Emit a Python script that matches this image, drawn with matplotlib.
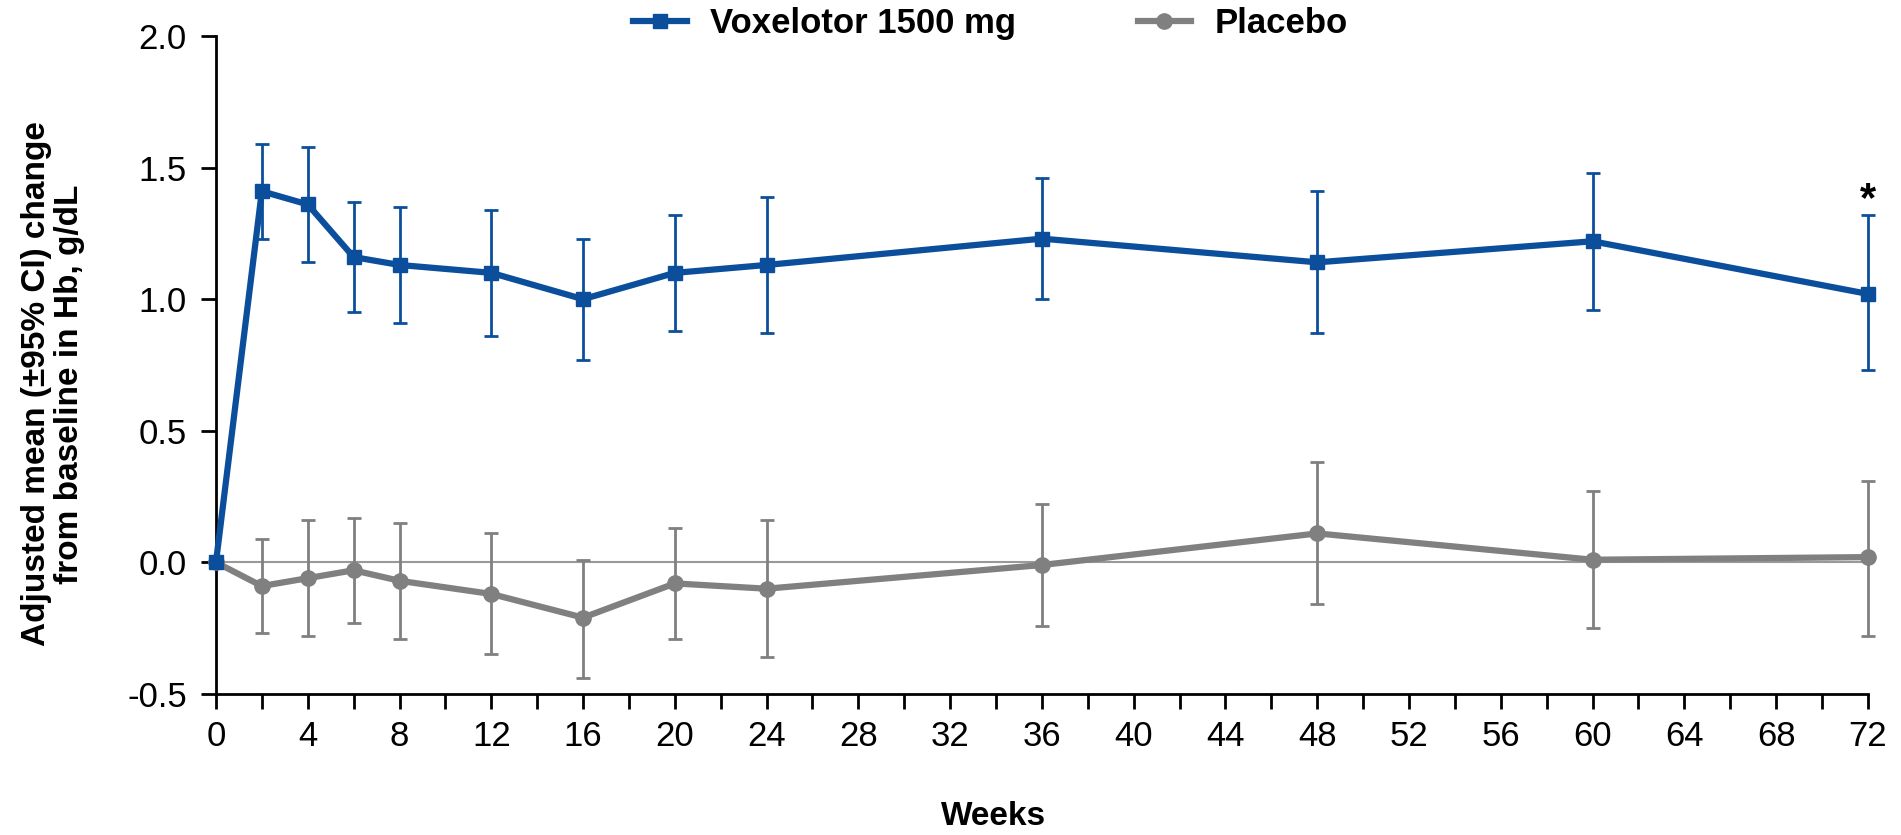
import matplotlib
matplotlib.use("Agg")
import matplotlib.pyplot as plt
import numpy as np

plt.rcParams['font.family'] = ['Liberation Sans', 'DejaVu Sans']

weeks = [0, 2, 4, 6, 8, 12, 16, 20, 24, 36, 48, 60, 72]
vox_mean = [0.0, 1.41, 1.36, 1.16, 1.13, 1.10, 1.00, 1.10, 1.13, 1.23, 1.14, 1.22, 1.02]
vox_lo = [0.0, 1.23, 1.14, 0.95, 0.91, 0.86, 0.77, 0.88, 0.87, 1.00, 0.87, 0.96, 0.73]
vox_hi = [0.0, 1.59, 1.58, 1.37, 1.35, 1.34, 1.23, 1.32, 1.39, 1.46, 1.41, 1.48, 1.32]
pla_mean = [0.0, -0.09, -0.06, -0.03, -0.07, -0.12, -0.21, -0.08, -0.10, -0.01, 0.11, 0.01, 0.02]
pla_lo = [0.0, -0.27, -0.28, -0.23, -0.29, -0.35, -0.44, -0.29, -0.36, -0.24, -0.16, -0.25, -0.28]
pla_hi = [0.0, 0.09, 0.16, 0.17, 0.15, 0.11, 0.01, 0.13, 0.16, 0.22, 0.38, 0.27, 0.31]
x_ticks = list(range(0, 73, 2))
y_ticks = [-0.5, 0.0, 0.5, 1.0, 1.5, 2.0]

blue = '#0B4F9C'
gray = '#808080'

fig = plt.figure(figsize=(19.01, 8.35), dpi=100)
ax = fig.add_axes([0.1136, 0.1689, 0.869, 0.788])

ax.axhline(0, color='#999999', lw=1.5, zorder=1)

w = np.array(weeks)
for m, lo, hi, c, mk, ms, lab in [
    (pla_mean, pla_lo, pla_hi, gray, 'o', 11, 'Placebo'),
    (vox_mean, vox_lo, vox_hi, blue, 's', 10.5, 'Voxelotor 1500 mg'),
]:
    m = np.array(m); lo = np.array(lo); hi = np.array(hi)
    err = np.vstack([m - lo, hi - m])
    ax.errorbar(w[1:], m[1:], yerr=err[:, 1:], fmt='none', ecolor=c, elinewidth=2,
                capsize=5, capthick=2, zorder=2, clip_on=False)
    ax.plot(w, m, color=c, lw=4.5, marker=mk, ms=ms, label=lab, zorder=3, clip_on=False)

ax.text(72, 1.30, '*', ha='center', va='bottom', fontsize=30, fontweight='bold')

ax.set_xlim(0, 72)
ax.set_ylim(-0.5, 2.0)
ax.set_xticks(x_ticks)
ax.set_xticklabels([str(v) if v % 4 == 0 else '' for v in x_ticks])
ax.set_yticks(y_ticks)
ax.set_yticklabels([f'{v:.1f}' for v in y_ticks])
ax.tick_params(axis='both', labelsize=25, width=2, length=11, direction='out')
ax.tick_params(axis='x', pad=8)
ax.tick_params(axis='y', pad=10)
for s in ['top', 'right']:
    ax.spines[s].set_visible(False)
for s in ['left', 'bottom']:
    ax.spines[s].set_linewidth(2)

ax.set_xlabel('Weeks', fontsize=24, fontweight='bold')
ax.xaxis.set_label_coords(0.471, -0.162)
ax.set_ylabel('Adjusted mean (±95% CI) change\nfrom baseline in Hb, g/dL', fontsize=24,
              fontweight='bold', linespacing=1.1)
ax.yaxis.set_label_coords(-0.079, 0.471)

handles, labels = ax.get_legend_handles_labels()
handles = handles[::-1]; labels = labels[::-1]
fig.legend(handles, labels, loc='center', bbox_to_anchor=(0.521, 0.972), ncol=2,
           frameon=False, prop={'size': 25, 'weight': 'bold'}, handlelength=1.55,
           handletextpad=0.66, columnspacing=3.5, borderaxespad=0)

fig.savefig('out.png', dpi=100)
